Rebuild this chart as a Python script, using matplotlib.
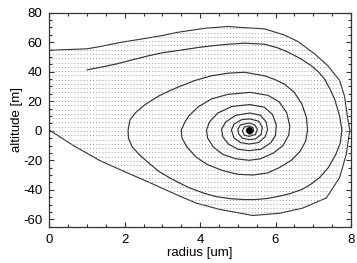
import numpy as np
import matplotlib
matplotlib.use("Agg")
import matplotlib.pyplot as plt
from matplotlib.patches import Polygon
from matplotlib.ticker import MultipleLocator

plt.rcParams['font.family'] = ['Liberation Sans', 'DejaVu Sans']
plt.rcParams['axes.unicode_minus'] = False

# trajectory (radius, altitude), spiralling in to the fixed point
traj_r = [1.0, 1.4, 1.79, 2.2, 2.67, 3.0, 3.41, 3.9, 4.3, 4.75, 5.18, 5.71, 6.05, 6.32, 6.65,
          6.95, 7.15, 7.3, 7.45, 7.57, 7.7, 7.76, 7.72, 7.6, 7.4, 7.17, 6.95, 6.72, 6.4, 6.11,
          5.8, 5.49, 5.15, 4.79, 4.4, 4.07, 3.7, 3.46, 3.2, 2.9, 2.67, 2.4, 2.2, 2.1, 2.09,
          2.14, 2.3, 2.54, 2.9, 3.2, 3.46, 3.86, 4.3, 4.75, 5.18, 5.71, 6.0, 6.24, 6.5, 6.7,
          6.82, 6.85, 6.8, 6.65, 6.42, 6.1, 5.8, 5.4, 5.0, 4.6, 4.2, 3.9, 3.65, 3.52, 3.5,
          3.6, 3.7, 3.94, 4.3, 4.73, 5.32, 5.8, 6.1, 6.3, 6.38, 6.35, 6.2, 5.95, 5.6, 5.3,
          4.95, 4.6, 4.35, 4.2, 4.17, 4.25, 4.47, 4.85, 5.32, 5.7, 5.92, 6.02, 6.0, 5.88, 5.62,
          5.3, 5.0, 4.75, 4.6, 4.57, 4.68, 4.95, 5.32, 5.6, 5.75, 5.79, 5.73, 5.55, 5.3, 5.07,
          4.9, 4.83, 4.9, 5.1, 5.32, 5.55, 5.65, 5.62, 5.47, 5.3, 5.12, 5.02, 5.0, 5.07, 5.3,
          5.45, 5.52, 5.47, 5.3, 5.17, 5.12, 5.18, 5.3, 5.4, 5.42, 5.37, 5.3]
traj_z = [41.2, 43.2, 45.3, 48.0, 51.0, 52.8, 54.3, 56.2, 57.5, 58.6, 59.3, 58.6, 56.2, 53.4, 49.0,
          44.1, 39.5, 35.0, 28.0, 21.2, 10.0, 0.5, -8.0, -16.0, -25.0, -31.7, -36.0, -39.5, -42.5, -44.3,
          -45.8, -46.6, -46.6, -46.0, -44.5, -42.0, -38.5, -35.5, -32.0, -27.5, -22.5, -16.5, -11.0, -5.0, 0.5,
          7.4, 12.5, 17.7, 23.5, 27.2, 30.0, 34.0, 37.2, 39.0, 39.6, 37.2, 34.5, 31.5, 26.0, 18.0,
          9.0, 0.5, -7.0, -14.0, -20.0, -25.0, -28.5, -30.0, -29.5, -27.0, -23.0, -18.0, -11.0, -5.0, 0.5,
          6.0, 10.0, 16.0, 21.5, 24.6, 26.0, 24.0, 19.5, 12.0, 3.0, -3.0, -10.0, -15.0, -19.0, -20.0,
          -19.0, -16.0, -11.0, -5.0, 0.5, 6.0, 12.0, 16.5, 17.7, 16.0, 11.0, 4.0, -3.0, -8.0, -12.5,
          -13.5, -12.5, -9.0, -4.0, 1.0, 6.0, 10.5, 12.0, 10.5, 6.0, 1.0, -4.0, -8.0, -9.0, -8.0,
          -5.0, 0.5, 4.5, 7.5, 8.0, 6.5, 2.5, -2.5, -5.5, -6.0, -5.0, -2.0, 1.0, 4.0, 5.2,
          4.0, 1.0, -2.5, -3.8, -3.0, 0.0, 2.6, 3.3, 2.2, 0.0, -2.0, -2.3]
center_r = [5.3]
center_z = [0.3]

# boundary of the dotted region
edge_r = [0.0, 0.5, 1.0, 1.3, 1.93, 2.54, 3.0, 3.41, 4.13, 4.73, 5.18, 5.71, 6.24, 6.59, 7.04,
          7.39, 7.7, 7.83, 7.92, 7.97, 7.92, 7.88, 7.7, 7.35, 6.72, 6.11, 5.4, 4.52, 3.9, 3.46,
          2.67, 2.05, 1.34, 0.63, 0.0]
edge_z = [54.5, 55.0, 55.5, 56.8, 60.0, 62.5, 64.5, 66.7, 69.4, 70.6, 69.8, 69.0, 64.8, 60.5, 52.0,
          44.0, 34.0, 23.4, 7.4, 0.5, -8.0, -15.6, -31.7, -45.5, -52.4, -55.9, -57.4, -53.3, -49.0, -44.3,
          -35.2, -28.3, -20.2, -9.9, 0.5]

fig = plt.figure(figsize=(3.57, 2.63), dpi=100)
ax = fig.add_axes([0.138, 0.138, 0.845, 0.814])

region = Polygon(np.column_stack([edge_r, edge_z]), closed=True, facecolor='none',
                 edgecolor='#333333', lw=0.8)
ax.add_patch(region)
# dotted fill: rows of dots clipped to the region
rows = np.arange(-64, 80, 2.9)
hl = ax.hlines(rows, 0, 8, colors='#a0a0a0', lw=0.7, linestyles=(0, (1, 2.2)))
hl.set_clip_path(region)

ax.plot(traj_r, traj_z, color='#333333', lw=0.85)
ax.plot(center_r, center_z, 'o', color='black', ms=4)

ax.set_xlim(0, 8)
ax.set_ylim(-65, 80)
ax.xaxis.set_major_locator(MultipleLocator(2))
ax.xaxis.set_minor_locator(MultipleLocator(0.5))
ax.yaxis.set_major_locator(MultipleLocator(20))
ax.yaxis.set_minor_locator(MultipleLocator(5))
ax.tick_params(which='both', direction='in', top=True, right=True, labelsize=9.5,
               color='#333333', width=0.8)
ax.tick_params(which='major', length=3.6, pad=5)
ax.tick_params(which='minor', length=2)
for s in ax.spines.values():
    s.set_linewidth(0.9)
    s.set_color('#333333')

ax.set_xlabel('radius [um]', fontsize=9.5, labelpad=1)
ax.set_ylabel('altitude [m]', fontsize=9.5, labelpad=0)

fig.savefig('out.png', dpi=100)
